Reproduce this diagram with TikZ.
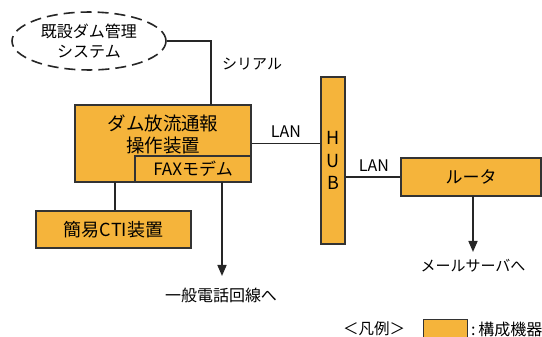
\documentclass[tikz,border=0pt]{standalone}
\usepackage{fontspec}
\setmainfont{Noto Sans CJK JP}
\usepackage{tikz}
\usetikzlibrary{shapes.geometric}
\usetikzlibrary{arrows.meta}
\definecolor{kiki}{HTML}{F5B43B}
\definecolor{waku}{HTML}{333333}

\begin{document}
\begin{tikzpicture}[x=1pt, y=-1pt,
                kbox/.style={draw=waku, fill=kiki, line width=1.1pt,
                    rectangle, inner sep=0pt},
                wire/.style={line width=1.6pt, draw=black!85},
                yaji/.style={wire, -{Triangle[width=9pt,length=11pt]}},
                lbl/.style={inner sep=0pt, font=\fontsize{15}{18}\selectfont}]
                \useasboundingbox (0,0) rectangle (542,337);
                \node[ellipse, draw=black!85, line width=1.6pt,
                    dash pattern=on 11pt off 6pt,
                    minimum width=154pt, minimum height=57pt,
                    align=center, font=\fontsize{16}{20}\selectfont] (sys) at (89,41)
                    {既設ダム管理\\システム};
                \node[kbox, minimum width=176pt, minimum height=77pt] (main) at (163,143.5) {};
                \node[align=center, font=\fontsize{18.5}{22}\selectfont] (maintxt) at (163,134)
                    {ダム放流通報\\操作装置};
                \node[kbox, anchor=south east, minimum width=116pt, minimum height=26pt,
                    font=\fontsize{17}{20}\selectfont] (fax) at (main.south east) {FAXモデム};
                \node[kbox, minimum width=24pt, minimum height=167pt, align=center,
                    font=\fontsize{18}{22.5}\selectfont] (hub) at (333,160.5) {H\\U\\B};
                \node[kbox, minimum width=140pt, minimum height=38pt,
                    font=\fontsize{17}{20}\selectfont] (router) at (471,177) {ルータ};
                \node[kbox, minimum width=155pt, minimum height=37pt,
                    font=\fontsize{18}{20}\selectfont] (cti) at (113.5,229.5) {簡易CTI装置};
                \coordinate (ser) at (211,105);
                \coordinate (ctiup) at (115,182);
                \coordinate (faxdn) at (222,182);
                \coordinate (rtdn) at (473,196);
                \draw[wire] (sys.east) -| (ser);
                \node[lbl, anchor=west] (serlbl) at (222,64) {シリアル};
                \draw[wire] (main.east) -- (main.east -| hub.west);
                \node[lbl, font=\fontsize{16}{18}\selectfont] (lan1) at (286,132) {LAN};
                \draw[wire] (router.west -| hub.east) -- (router.west);
                \node[lbl, font=\fontsize{16}{18}\selectfont] (lan2) at (374,166) {LAN};
                \draw[wire] (ctiup) -- (ctiup |- cti.north);
                \coordinate (tel) at (222,276);
                \draw[yaji] (faxdn) -- (tel);
                \node[lbl, font=\fontsize{16}{18}\selectfont] (tellbl) at (221,295) {一般電話回線へ};
                \coordinate (mail) at (473,252);
                \draw[yaji] (rtdn) -- (mail);
                \node[lbl] (maillbl) at (473,266) {メールサーバへ};
                \node[lbl, font=\fontsize{15.5}{18}\selectfont] (hanrei) at (374,329) {＜凡例＞};
                \node[kbox, anchor=north west, minimum width=44pt, minimum height=22pt] (lgbox) at (423,319) {};
                \node[lbl, anchor=west, font=\fontsize{16}{18}\selectfont] (lgtxt) at (471,329) {:\,構成機器};
            \end{tikzpicture}
\end{document}
